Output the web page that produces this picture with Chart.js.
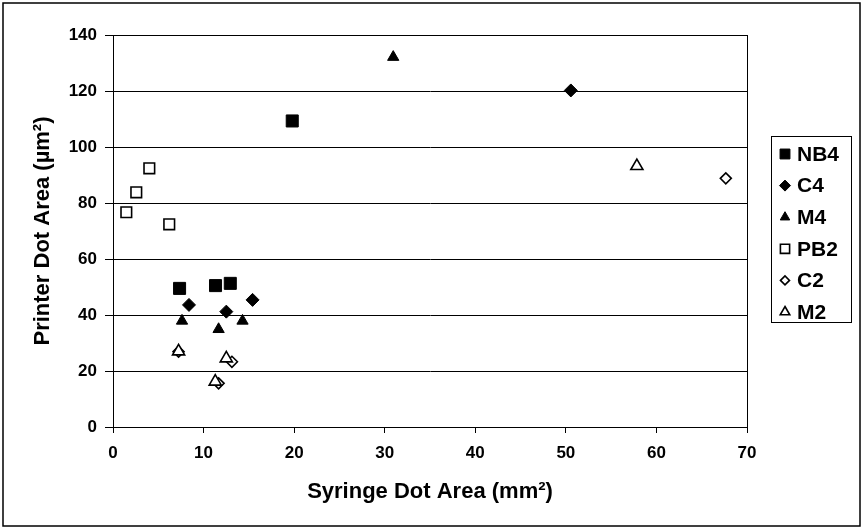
<!DOCTYPE html>
<html>
<head>
<meta charset="utf-8">
<title>Printer vs Syringe Dot Area</title>
<script src="https://cdn.jsdelivr.net/npm/chart.js@4.4.1/dist/chart.umd.min.js"></script>
<style>
    html, body { margin: 0; padding: 0; background: #ffffff; }
    #chart { display: block; }
</style>
</head>
<body>
<canvas id="chart" width="863" height="528"></canvas>
<script>
// values (syringe area mm2, printer area um2)
const seriesNames = ["NB4", "C4", "M4", "PB2", "C2", "M2"];
const nb4X = [7.35, 11.32, 12.95, 19.79];
const nb4Y = [49.5, 50.5, 51.3, 109.3];
const c4X = [8.39, 12.51, 15.41, 50.55];
const c4Y = [43.6, 41.2, 45.4, 120.2];
const m4X = [7.62, 11.66, 14.3, 30.94];
const m4Y = [37.9, 34.9, 37.9, 132.1];
const pb2X = [1.47, 2.57, 4.01, 6.21];
const pb2Y = [76.7, 83.8, 92.4, 72.4];
const c2X = [7.24, 11.66, 13.13, 67.66];
const c2Y = [26.9, 15.6, 23.3, 88.8];
const m2X = [7.24, 11.29, 12.51, 57.84];
const m2Y = [27.0, 16.2, 24.5, 93.2];
const xTicks = [0, 10, 20, 30, 40, 50, 60, 70];
const yTicks = [0, 20, 40, 60, 80, 100, 120, 140];

(function (document) {
    "use strict";

    const FONT = "'Liberation Sans', Arial, Helvetica, sans-serif";

    const toPoints = (xs, ys) => xs.map((x, i) => ({ x: x, y: ys[i] }));

    // marker look per series: filled for the "4" series, hollow for the "2" series
    const markers = {
        NB4: { style: "rect", radius: 8.5, fill: "#000", border: 1, legendRadius: 7 },
        C4: { style: "rectRot", radius: 6.5, fill: "#000", border: 1, legendRadius: 5.5 },
        M4: { style: "triangle", radius: 6.5, fill: "#000", border: 1, legendRadius: 5.5 },
        PB2: { style: "rect", radius: 7.5, fill: "#fff", border: 1.6, legendRadius: 6.5 },
        C2: { style: "rectRot", radius: 5.5, fill: "#fff", border: 1.6, legendRadius: 4.5 },
        M2: { style: "triangle", radius: 7, fill: "#fff", border: 1.6, legendRadius: 5.5 }
    };

    const seriesData = {
        NB4: toPoints(nb4X, nb4Y),
        C4: toPoints(c4X, c4Y),
        M4: toPoints(m4X, m4Y),
        PB2: toPoints(pb2X, pb2Y),
        C2: toPoints(c2X, c2Y),
        M2: toPoints(m2X, m2Y)
    };

    const datasets = seriesNames.map((name, i) => {
        const m = markers[name];
        return {
            label: name,
            data: seriesData[name],
            pointStyle: m.style,
            pointRadius: m.radius,
            pointHoverRadius: m.radius,
            pointBackgroundColor: m.fill,
            pointBorderColor: "#000",
            pointBorderWidth: m.border,
            showLine: false,
            clip: false,
            order: seriesNames.length - i
        };
    });

    const drawMarker = (ctx, style, r, x, y) => {
        ctx.beginPath();
        if (style === "rect") {
            const s = Math.SQRT1_2 * r;
            ctx.rect(x - s, y - s, 2 * s, 2 * s);
        } else if (style === "rectRot") {
            ctx.moveTo(x - r, y);
            ctx.lineTo(x, y - r);
            ctx.lineTo(x + r, y);
            ctx.lineTo(x, y + r);
            ctx.closePath();
        } else {
            const h = r * Math.sqrt(3) / 2;
            ctx.moveTo(x, y - r);
            ctx.lineTo(x + h, y + r / 2);
            ctx.lineTo(x - h, y + r / 2);
            ctx.closePath();
        }
        ctx.fill();
        ctx.stroke();
    };

    // frame, plot border, axis titles and boxed legend
    const decorations = {
        id: "excelDecorations",
        afterDraw: (chart) => {
            const { ctx, chartArea } = chart;
            ctx.save();

            // outer frame
            ctx.strokeStyle = "#000";
            ctx.lineWidth = 1.5;
            ctx.strokeRect(3, 3, 857, 523);

            // plot area border
            ctx.lineWidth = 1;
            ctx.strokeRect(chartArea.left + 0.5, chartArea.top + 0.5,
                chartArea.right - chartArea.left, chartArea.bottom - chartArea.top);

            // axis titles
            ctx.fillStyle = "#000";
            ctx.font = "bold 22px " + FONT;
            ctx.textAlign = "center";
            ctx.textBaseline = "middle";
            ctx.fillText("Syringe Dot Area (mm\u00b2)", (chartArea.left + chartArea.right) / 2, 492);

            ctx.save();
            ctx.translate(43, (chartArea.top + chartArea.bottom) / 2);
            ctx.rotate(-Math.PI / 2);
            ctx.fillText("Printer Dot Area (\u00b5m\u00b2)", 0, 0);
            ctx.restore();

            // legend
            ctx.lineWidth = 1;
            ctx.strokeRect(771.5, 136.5, 80, 186);
            ctx.font = "bold 21px " + FONT;
            ctx.textAlign = "left";
            seriesNames.forEach((name, i) => {
                const m = markers[name];
                const y = 154 + i * 31.6;
                ctx.fillStyle = m.fill;
                ctx.strokeStyle = "#000";
                ctx.lineWidth = m.border;
                drawMarker(ctx, m.style, m.legendRadius, 785, y);
                ctx.fillStyle = "#000";
                ctx.fillText(name, 797, y + 1);
            });

            ctx.restore();
        }
    };

    const chartOptions = {
        type: "scatter",
        data: { datasets: datasets },
        options: {
            responsive: false,
            animation: false,
            devicePixelRatio: 1,
            layout: {
                padding: { left: 0, top: 35, right: 116, bottom: 0 }
            },
            plugins: {
                legend: { display: false },
                tooltip: { enabled: false }
            },
            scales: {
                x: {
                    type: "linear",
                    min: 0,
                    max: 70,
                    afterFit: (scale) => { scale.height = 101; },
                    afterBuildTicks: (scale) => { scale.ticks = xTicks.map((v) => ({ value: v })); },
                    grid: {
                        drawOnChartArea: false,
                        drawTicks: true,
                        tickLength: 6,
                        color: "#000"
                    },
                    border: { display: true, color: "#000", width: 1 },
                    ticks: {
                        color: "#000",
                        padding: 10,
                        maxRotation: 0,
                        font: { family: FONT, size: 17, weight: "bold" }
                    }
                },
                y: {
                    type: "linear",
                    min: 0,
                    max: 140,
                    afterFit: (scale) => { scale.width = 113; },
                    afterBuildTicks: (scale) => { scale.ticks = yTicks.map((v) => ({ value: v })); },
                    grid: {
                        drawTicks: true,
                        tickLength: 8,
                        color: "#000",
                        lineWidth: 1
                    },
                    border: { display: true, color: "#000", width: 1 },
                    ticks: {
                        color: "#000",
                        padding: 8,
                        font: { family: FONT, size: 17, weight: "bold" }
                    }
                }
            }
        },
        plugins: [decorations]
    };

    const ctx = document.getElementById("chart").getContext("2d");
    new Chart(ctx, chartOptions);
})(document);
</script>
</body>
</html>
